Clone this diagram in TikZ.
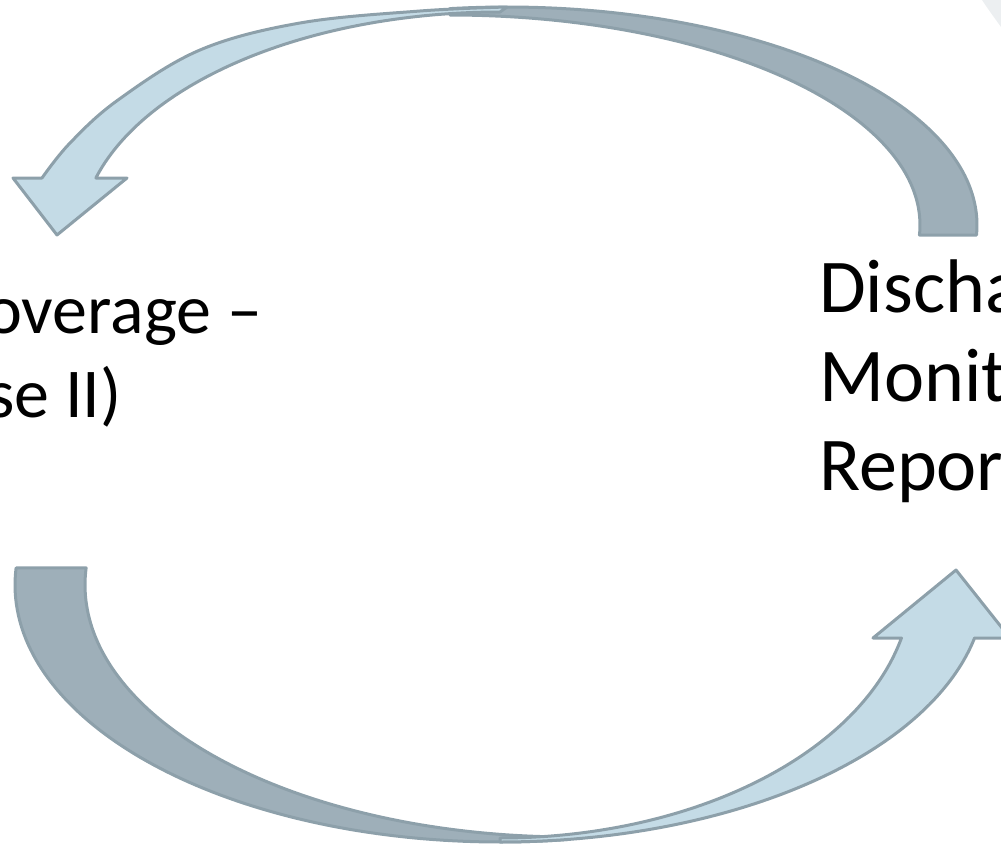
\documentclass[tikz,border=0pt]{standalone}
\usepackage{fontspec}
\setmainfont{Carlito}
\definecolor{lightface}{RGB}{196,219,230}
\definecolor{darkface}{RGB}{158,175,185}
\definecolor{edgecol}{RGB}{141,160,170}
\definecolor{faintgrey}{RGB}{236,239,241}
\begin{document}
\begin{tikzpicture}[x=1pt,y=-1pt,
  lightband/.style={fill=lightface, draw=edgecol, line width=3pt, line join=round},
  darkband/.style={fill=darkface, draw=edgecol, line width=3pt, line join=round},
  lbl/.style={font=\fontsize{70}{85}\selectfont, inner sep=0pt, anchor=base west, text=black},
  rlbl/.style={lbl, font=\fontsize{76}{90}\selectfont},
  every plot/.style={samples=90}]
\useasboundingbox (0,0) rectangle (1001,846);
\clip (0,0) rectangle (1001,846);
% faint shape in the top right corner
\fill[faintgrey] (982,0) .. controls (990,12) and (996,20) .. (1001,27) -- (1001,0) -- cycle;
% top arrow: back (dark) part
\path[darkband] plot[domain=-2.63:97, variable=\t] ({507+470*cos(\t)},{225-218*sin(\t)})
  -- plot[domain=90:-2.73, variable=\t] ({450+470*cos(\t)},{225-210*sin(\t)}) -- cycle;
% top arrow: front (light) part with head
\path[lightband] plot[smooth, tension=0.6] coordinates {(507,7) (420,11) (300,23) (200,50) (118,100) (70,143) (42,178)}
  -- (13,178) -- (57,235) -- (127,178)
  -- plot[domain=164.22:90, variable=\t] ({500+420*cos(\t)},{240-228*sin(\t)}) -- cycle;
% bottom arrow: back (dark) part
\path[darkband] plot[domain=176.2:278.3, variable=\t] ({500+485*cos(\t)},{585-257*sin(\t)})
  -- plot[domain=270:176.1, variable=\t] ({570+485*cos(\t)},{585-252*sin(\t)}) -- cycle;
% bottom arrow: front (light) part with head
\path[lightband] plot[domain=270:348.1, variable=\t] ({500+485*cos(\t)},{585-257*sin(\t)})
  -- (1010,638) -- (956,570) -- (873,638)
  -- plot[domain=347:270, variable=\t] ({500+412*cos(\t)},{580-258*sin(\t)}) -- cycle;
% texts
\node[lbl] (L1) at (-15,333) {overage –};
\node[lbl] (L2) at (-13,417) {se II)};
\node[rlbl] (R1) at (819,312) {Discha};
\node[rlbl] (R2) at (819,401) {Monit};
\node[rlbl] (R3) at (819,490) {Repor};
\end{tikzpicture}
\end{document}
